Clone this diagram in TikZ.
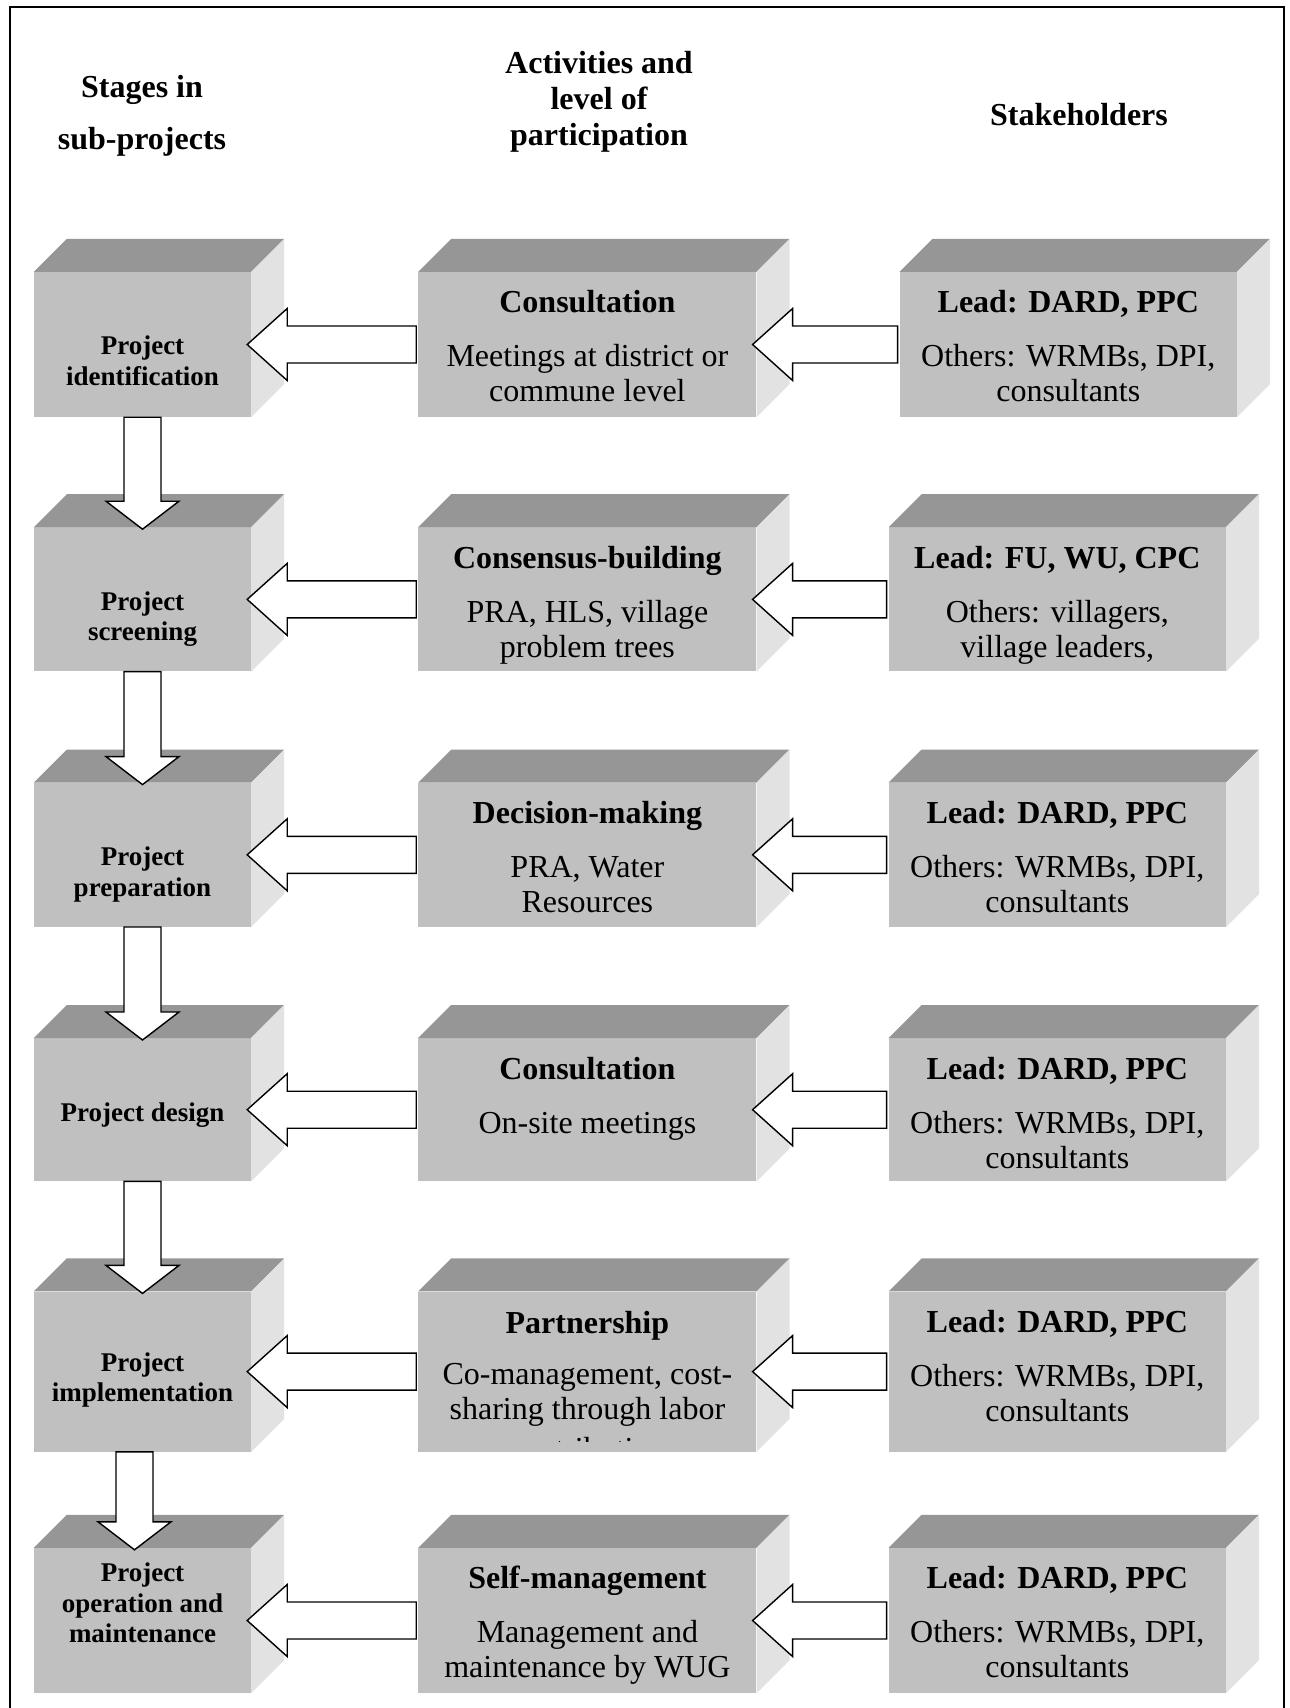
\documentclass[tikz,border=0pt]{standalone}
\usepackage{fontspec}
\setmainfont{Liberation Serif}
\usepackage{tikz}
\usetikzlibrary{
  positioning,
  calc
}
\definecolor{FaceGray}{RGB}{192,192,192}
\definecolor{TopGray}{RGB}{150,150,150}
\definecolor{SideGray}{RGB}{226,226,226}
\tikzset{
  %%── box front faces ──────────────────────────────
  stagebox/.style = {
    rectangle, fill = FaceGray, inner sep = 0pt,
    minimum width = 217pt
  },
  actbox/.style = {
    rectangle, fill = FaceGray, inner sep = 0pt,
    minimum width = 338pt
  },
  holdbox/.style = {
    rectangle, fill = FaceGray, inner sep = 0pt,
    minimum width = 337pt
  },
  topface/.style  = {fill = TopGray},
  sideface/.style = {fill = SideGray},
  %%── texts (anchor = base is the last line) ───────
  head/.style = {font = \fontsize{32}{36}\selectfont\bfseries,
    align = center, inner sep = 0pt, anchor = base},
  ttl/.style  = {font = \fontsize{32}{35}\selectfont\bfseries,
    inner sep = 0pt, anchor = base},
  txt/.style  = {font = \fontsize{32}{35}\selectfont,
    align = center, inner sep = 0pt, anchor = base},
  stg/.style  = {font = \fontsize{27}{30.5}\selectfont\bfseries,
    align = center, inner sep = 0pt, anchor = base},
  %%── block arrows ─────────────────────────────────
  blockarr/.style = {draw = black, fill = white, line width = 1.4pt,
    line join = miter},
}
%% top and side faces of a box
\newcommand{\cubefaces}[1]{%
  \fill[topface] (#1.north west) -- ++(33,-33)
    -- ([shift={(33,-33)}]#1.north east) -- (#1.north east) -- cycle;
  \fill[sideface] (#1.north east) -- ++(33,-33)
    -- ([shift={(33,-33)}]#1.south east) -- (#1.south east) -- cycle;}
%% wide arrow pointing left, #1 = target, #2 = source
\newcommand{\harr}[2]{%
  \draw[blockarr] ([xshift=-4pt]#1.east) -- ++(40,-36) -- ++(0,17.5)
    -- ([xshift=-2pt,yshift=18.5pt]#2.west)
    -- ([xshift=-2pt,yshift=-18.5pt]#2.west)
    -- ([xshift=36pt,yshift=-18.5pt]#1.east) -- ++(0,17.5) -- cycle;}
%% wide arrow pointing down, #2 = source, #3 = target
\newcommand{\varr}[3][0pt]{%
  \draw[blockarr] ([xshift=#1-18.5pt]#2.south)
    -- ([xshift=#1-18.5pt,yshift=26pt]#3.north) -- ++(-18,0)
    -- ([xshift=#1,yshift=-2pt]#3.north)
    -- ([xshift=#1+36.5pt,yshift=26pt]#3.north) -- ++(-18,0)
    -- ([xshift=#1+18.5pt]#2.south) -- cycle;}

\begin{document}
\begin{tikzpicture}[x = 1pt, y = -1pt]
  \useasboundingbox (0,0) rectangle (1290,1708);

  %% frame
  \draw[line width = 2pt] (10,1708) -- (10,7) -- (1284,7) -- (1284,1708);

  %% column heads
  \node[head] (hS) at (142,149) {Stages in\\[16pt]sub-projects};
  \node[head] (hA) at (599,145) {Activities and\\level of\\participation};
  \node[head] (hK) at (1079,125) {Stakeholders};

  %% ── column 1: stages ───────────────────────────
  \node[stagebox, minimum height = 145pt] (s1) at (142.5,344.5) {};
  \node[stagebox, minimum height = 144pt, below = 110pt of s1] (s2) {};
  \node[stagebox, minimum height = 144pt, below = 111pt of s2] (s3) {};
  \node[stagebox, minimum height = 143pt, below = 111pt of s3] (s4) {};
  \node[stagebox, minimum height = 160pt, below = 110pt of s4] (s5) {};
  \node[stagebox, minimum height = 145pt, below = 96pt of s5]  (s6) {};

  %% ── column 2: activities ───────────────────────
  \node[actbox, minimum height = 145pt, right = 167pt of s1] (a1) {};
  \node[actbox, minimum height = 144pt, right = 167pt of s2] (a2) {};
  \node[actbox, minimum height = 144pt, right = 167pt of s3] (a3) {};
  \node[actbox, minimum height = 143pt, right = 167pt of s4] (a4) {};
  \node[actbox, minimum height = 160pt, right = 167pt of s5] (a5) {};
  \node[actbox, minimum height = 145pt, right = 167pt of s6] (a6) {};

  %% ── column 3: stakeholders ─────────────────────
  \node[holdbox, minimum height = 145pt, right = 143pt of a1] (h1) {};
  \node[holdbox, minimum height = 144pt, right = 132pt of a2] (h2) {};
  \node[holdbox, minimum height = 144pt, right = 132pt of a3] (h3) {};
  \node[holdbox, minimum height = 143pt, right = 132pt of a4] (h4) {};
  \node[holdbox, minimum height = 160pt, right = 132pt of a5] (h5) {};
  \node[holdbox, minimum height = 145pt, right = 132pt of a6] (h6) {};

  \foreach \n in {s1,s2,s3,s4,s5,s6,a1,a2,a3,a4,a5,a6,h1,h2,h3,h4,h5,h6}
    {\cubefaces{\n}}

  %% ── texts ──────────────────────────────────────
  \node[stg] (s1t) at ([yshift=-113.5pt]s1.north) {Project\\identification};
  \node[stg] (s2t) at ([yshift=-113.5pt]s2.north) {Project\\screening};
  \node[stg] (s3t) at ([yshift=-113.5pt]s3.north) {Project\\preparation};
  \node[stg] (s4t) at ([yshift=-83pt]s4.north) {Project design};
  \node[stg] (s5t) at ([yshift=-110.5pt]s5.north) {Project\\implementation};
  \node[stg] (s6t) at ([yshift=-95pt]s6.north) {Project\\operation and\\maintenance};

  \node[ttl] (a1t) at ([yshift=-41pt]a1.north) {Consultation};
  \node[txt] (a1b) at ([yshift=-130pt]a1.north) {Meetings at district or\\commune level};
  \node[ttl] (a2t) at ([yshift=-41pt]a2.north) {Consensus-building};
  \node[txt] (a2b) at ([yshift=-130pt]a2.north) {PRA, HLS, village\\problem trees};
  \node[ttl] (a3t) at ([yshift=-41pt]a3.north) {Decision-making};
  \node[txt] (a3b) at ([yshift=-130pt]a3.north) {PRA, Water\\Resources};
  \node[ttl] (a4t) at ([yshift=-41pt]a4.north) {Consultation};
  \node[txt] (a4b) at ([yshift=-95pt]a4.north) {On-site meetings};
  \node[ttl] (a5t) at ([yshift=-42pt]a5.north) {Partnership};
  %% last line is cut by the text area
  \begin{scope}
    \clip (a5.north west) rectangle ([yshift=10pt]a5.south east);
    \node[txt] (a5b) at ([yshift=-168pt]a5.north) {Co-management, cost-\\sharing through labor\\[5pt]contribution};
  \end{scope}
  \node[ttl] (a6t) at ([yshift=-41pt]a6.north) {Self-management};
  \node[txt] (a6b) at ([yshift=-130pt]a6.north) {Management and\\maintenance by WUG};

  \node[ttl] (h1t) at ([yshift=-41pt]h1.north) {Lead: DARD, PPC};
  \node[txt] (h1b) at ([yshift=-130pt]h1.north) {Others: WRMBs, DPI,\\consultants};
  \node[ttl] (h2t) at ([yshift=-41pt]h2.north) {Lead: FU, WU, CPC};
  \node[txt] (h2b) at ([yshift=-130pt]h2.north) {Others: villagers,\\village leaders,};
  \foreach \r in {3,4,5,6} {
    \node[ttl] (h\r t) at ([yshift=-41pt]h\r.north) {Lead: DARD, PPC};
    \node[txt] (h\r b) at ([yshift=-130pt]h\r.north) {Others: WRMBs, DPI,\\consultants};
  }

  %% ── arrows: stakeholders → activities → stages ──
  \foreach \r in {1,...,6} {
    \harr{s\r}{a\r}
    \harr{a\r}{h\r}
  }

  %% ── arrows: stage to stage ─────────────────────
  \varr{s1}{s2}
  \varr{s2}{s3}
  \varr{s3}{s4}
  \varr{s4}{s5}
  \varr[-8pt]{s5}{s6}

\end{tikzpicture}
\end{document}
